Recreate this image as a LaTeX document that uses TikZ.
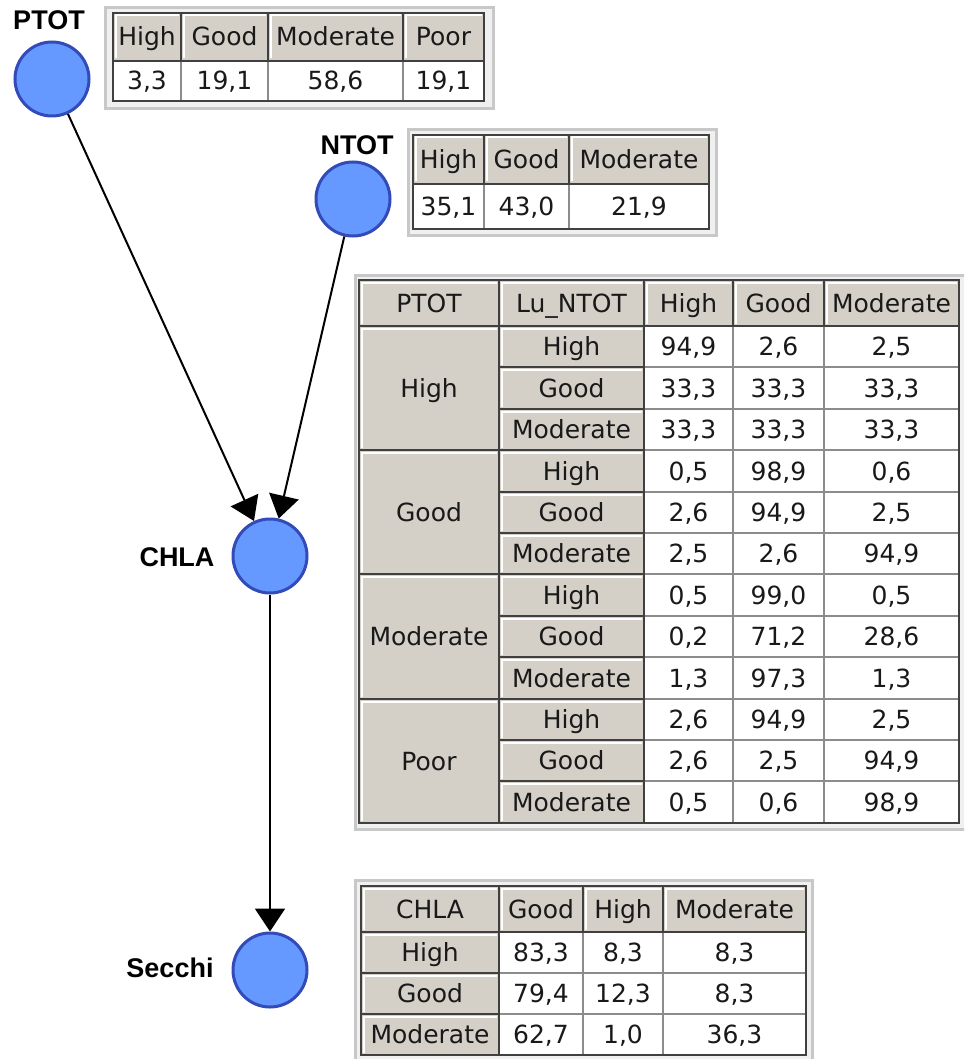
\documentclass[tikz,border=0pt]{standalone}
\usepackage{fontspec}
\setmainfont{DejaVu Sans}
\newfontfamily\lblfont{Liberation Sans}
\usetikzlibrary{arrows.meta}
\definecolor{hdrgray}{RGB}{212,208,200}
\definecolor{edgedark}{RGB}{64,64,64}
\definecolor{gridgray}{RGB}{140,140,140}
\definecolor{framelight}{RGB}{240,240,240}
\definecolor{frameedge}{RGB}{200,200,200}
\definecolor{nodefill}{RGB}{102,153,255}
\definecolor{nodeedge}{RGB}{50,75,185}
\tikzset{
  bnode/.style={circle, fill=nodefill, draw=nodeedge, line width=3pt, minimum size=74pt, inner sep=0pt},
  lbl/.style={font=\lblfont\bfseries\fontsize{27}{30}\selectfont, inner sep=0pt},
  txt/.style={font=\fontsize{25}{28}\selectfont, inner sep=0pt, text height=18pt, text depth=0pt, text=black!90},
  link/.style={-{Triangle[length=23pt,width=30pt]}, line width=2pt},
  tframe/.style={fill=framelight, draw=frameedge, line width=3pt},
  tbody/.style={draw=edgedark, line width=2.5pt},
}
\newcommand\HCell[6]{%
  \fill[hdrgray] (#2,#3) rectangle (#4,#5);
  \draw[white, line width=2pt] (#2+2.5,#5-2.5) -- (#2+2.5,#3+2.5) -- (#4-2.5,#3+2.5);
  \draw[edgedark, line width=2.5pt] (#2,#3) rectangle (#4,#5);
  \node[txt] (#1) at ({(#2+#4)/2},{(#3+#5)/2}) {#6};
}
\newcommand\DCell[6]{%
  \fill[white] (#2,#3) rectangle (#4,#5);
  \draw[gridgray, line width=1.5pt] (#2,#3) rectangle (#4,#5);
  \node[txt] (#1) at ({(#2+#4)/2},{(#3+#5)/2}) {#6};
}
\newcommand\BigRow[7]{%
  \DCell{#1a}{644}{#2}{733}{#3}{#5}
  \DCell{#1b}{733}{#2}{824}{#3}{#6}
  \DCell{#1c}{824}{#2}{959}{#3}{#7}
  \HCell{#1n}{499}{#2}{644}{#3}{#4}
}
\begin{document}
\begin{tikzpicture}[x=1pt,y=-1pt]
\useasboundingbox (0,0) rectangle (964,1059);
\clip (0,0) rectangle (964,1059);
\fill[white] (0,0) rectangle (964,1059);

% ---------- PTOT table ----------
\draw[tframe] (105,8) rectangle (493,109);
\DCell{p1}{113}{61}{181}{101}{3,3}
\DCell{p2}{181}{61}{268}{101}{19,1}
\DCell{p3}{268}{61}{403}{101}{58,6}
\DCell{p4}{403}{61}{484}{101}{19,1}
\HCell{ph1}{113}{13}{181}{61}{High}
\HCell{ph2}{181}{13}{268}{61}{Good}
\HCell{ph3}{268}{13}{403}{61}{Moderate}
\HCell{ph4}{403}{13}{484}{61}{Poor}
\draw[tbody] (113,13) rectangle (484,101);

% ---------- NTOT table ----------
\draw[tframe] (408,130) rectangle (716,236);
\DCell{n1}{413}{184}{484}{229}{35,1}
\DCell{n2}{484}{184}{569}{229}{43,0}
\DCell{n3}{569}{184}{709}{229}{21,9}
\HCell{nh1}{413}{135}{484}{184}{High}
\HCell{nh2}{484}{135}{569}{184}{Good}
\HCell{nh3}{569}{135}{709}{184}{Moderate}
\draw[tbody] (413,135) rectangle (709,229);

% ---------- CHLA table ----------
\draw[tframe] (355,275) rectangle (970,829);
\BigRow{r1}{326}{367}{High}{94,9}{2,6}{2,5}
\BigRow{r2}{367}{409}{Good}{33,3}{33,3}{33,3}
\BigRow{r3}{409}{450}{Moderate}{33,3}{33,3}{33,3}
\BigRow{r4}{450}{492}{High}{0,5}{98,9}{0,6}
\BigRow{r5}{492}{533}{Good}{2,6}{94,9}{2,5}
\BigRow{r6}{533}{574}{Moderate}{2,5}{2,6}{94,9}
\BigRow{r7}{574}{616}{High}{0,5}{99,0}{0,5}
\BigRow{r8}{616}{657}{Good}{0,2}{71,2}{28,6}
\BigRow{r9}{657}{699}{Moderate}{1,3}{97,3}{1,3}
\BigRow{r10}{699}{740}{High}{2,6}{94,9}{2,5}
\BigRow{r11}{740}{781}{Good}{2,6}{2,5}{94,9}
\BigRow{r12}{781}{823}{Moderate}{0,5}{0,6}{98,9}
\HCell{g1}{359}{326}{499}{450}{High}
\HCell{g2}{359}{450}{499}{574}{Good}
\HCell{g3}{359}{574}{499}{699}{Moderate}
\HCell{g4}{359}{699}{499}{823}{Poor}
\HCell{ch1}{359}{280}{499}{326}{PTOT}
\HCell{ch2}{499}{280}{644}{326}{Lu\_NTOT}
\HCell{ch3}{644}{280}{733}{326}{High}
\HCell{ch4}{733}{280}{824}{326}{Good}
\HCell{ch5}{824}{280}{959}{326}{Moderate}
\draw[tbody] (359,280) rectangle (959,823);

% ---------- Secchi table ----------
\draw[tframe] (355,880) rectangle (812,1070);
\DCell{s1a}{499}{932}{583}{973}{83,3}
\DCell{s1b}{583}{932}{663}{973}{8,3}
\DCell{s1c}{663}{932}{806}{973}{8,3}
\DCell{s2a}{499}{973}{583}{1014}{79,4}
\DCell{s2b}{583}{973}{663}{1014}{12,3}
\DCell{s2c}{663}{973}{806}{1014}{8,3}
\DCell{s3a}{499}{1014}{583}{1055}{62,7}
\DCell{s3b}{583}{1014}{663}{1055}{1,0}
\DCell{s3c}{663}{1014}{806}{1055}{36,3}
\HCell{s1n}{361}{932}{499}{973}{High}
\HCell{s2n}{361}{973}{499}{1014}{Good}
\HCell{s3n}{361}{1014}{499}{1055}{Moderate}
\HCell{sh1}{361}{886}{499}{932}{CHLA}
\HCell{sh2}{499}{886}{583}{932}{Good}
\HCell{sh3}{583}{886}{663}{932}{High}
\HCell{sh4}{663}{886}{806}{932}{Moderate}
\draw[tbody] (361,886) rectangle (806,1055);

% ---------- network ----------
\node[bnode] (ptot) at (52,79) {};
\node[bnode] (ntot) at (353,199) {};
\node[bnode] (chla) at (270,556) {};
\node[bnode] (secchi) at (270,970) {};
\node[lbl] (lptot) at (49,20) {PTOT};
\node[lbl] (lntot) at (357,145) {NTOT};
\node[lbl] (lchla) at (177,557) {CHLA};
\node[lbl] (lsecchi) at (170,968) {Secchi};
\draw[link] (ptot) -- (chla);
\draw[link] (ntot) -- (chla);
\draw[link] (chla) -- (secchi);
\end{tikzpicture}
\end{document}
